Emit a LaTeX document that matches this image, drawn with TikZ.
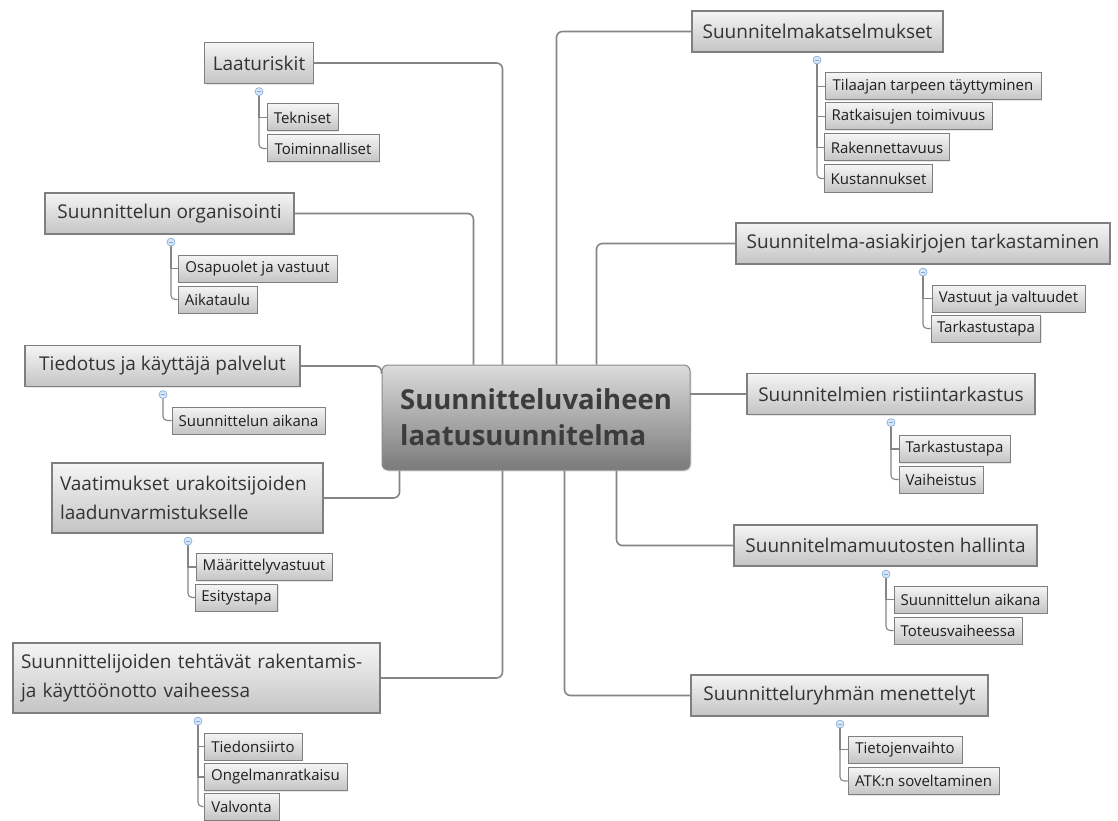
\documentclass[tikz,border=0pt]{standalone}
\usepackage{fontspec}
\setmainfont{Open Sans}
\usetikzlibrary{calc,shadows,backgrounds}
\definecolor{boxtop}{HTML}{F5F5F5}
\definecolor{boxbot}{HTML}{C4C4C4}
\definecolor{boxline}{HTML}{7F7F7F}
\definecolor{centop}{HTML}{DCDCDC}
\definecolor{cenbot}{HTML}{7A7A7A}
\definecolor{cenline}{HTML}{8A8A8A}
\definecolor{centext}{HTML}{3C3C3C}
\definecolor{textdark}{HTML}{333333}
\definecolor{leaftext}{HTML}{1E1E1E}
\definecolor{linegray}{HTML}{858585}
\definecolor{markerfill}{HTML}{D8E7F8}
\definecolor{markerline}{HTML}{7FA8D6}
\begin{document}
\begin{tikzpicture}[x=1pt,y=-1pt,
  box/.style={draw=boxline, top color=boxtop, bottom color=boxbot, text=textdark,
    drop shadow={shadow xshift=1.2pt, shadow yshift=-1.2pt, opacity=0.18}},
  topic/.style={box, line width=1.2pt, minimum height=41, inner xsep=8pt, inner ysep=0pt,
    font=\fontsize{19}{29}\selectfont},
  twoline/.style={topic, minimum height=70, align=left, text width=#1},
  leaf/.style={box, line width=1pt, minimum height=27, inner xsep=6pt, inner ysep=0pt,
    font=\fontsize{15}{18}\selectfont, text=leaftext},
  central/.style={draw=cenline, line width=1pt, rounded corners=6, top color=centop,
    bottom color=cenbot, minimum width=308, minimum height=105, inner sep=0pt, align=left,
    font=\fontsize{27.5}{36}\selectfont\bfseries, text=centext,
    drop shadow={shadow xshift=1.5pt, shadow yshift=-1.5pt, opacity=0.2}},
  marker/.style={circle, draw=markerline, fill=markerfill, line width=0.6pt, minimum size=8,
    inner sep=0pt, path picture={\draw[markerline, line width=0.7pt]
      ([xshift=-2.2pt]path picture bounding box.center) --
      ([xshift=2.2pt]path picture bounding box.center);}},
  conn/.style={draw=linegray, line width=1.6pt, rounded corners=6},
  sub/.style={draw=linegray, line width=1.1pt},
  subend/.style={sub, rounded corners=4},
]
\useasboundingbox (0,0) rectangle (1118,821);

% centre topic
\node[central] (c) at (536,417.5) {Suunnitteluvaiheen\\laatusuunnitelma};

% left-hand topics
\node[topic, minimum width=108] (lr) at (259,63) {Laaturiskit};
\node[leaf, minimum width=71]  (lr1) at (302.5,117.5) {Tekniset};
\node[leaf, minimum width=112] (lr2) at (323,148.5) {Toiminnalliset};

\node[topic, minimum width=249] (so) at (169.5,213.5) {Suunnittelun organisointi};
\node[leaf, minimum width=159] (so1) at (257.5,268.5) {Osapuolet ja vastuut};
\node[leaf, minimum width=79]  (so2) at (217.5,299.5) {Aikataulu};

\node[topic, minimum width=275] (tk) at (162.5,366) {Tiedotus ja käyttäjä palvelut};
\node[leaf, minimum width=153] (tk1) at (248.5,420.5) {Suunnittelun aikana};

\node[twoline=255] (va) at (187.5,498) {Vaatimukset urakoitsijoiden\\laadunvarmistukselle};
\node[leaf, minimum width=136] (va1) at (264,567) {Määrittelyvastuut};
\node[leaf, minimum width=81]  (va2) at (236.5,597.5) {Esitystapa};

\node[twoline=351] (st) at (196.5,678) {Suunnittelijoiden tehtävät rakentamis-\\ja käyttöönotto vaiheessa};
\node[leaf, minimum width=98]  (st1) at (253,746.5) {Tiedonsiirto};
\node[leaf, minimum width=143] (st2) at (275.5,777) {Ongelmanratkaisu};
\node[leaf, minimum width=75]  (st3) at (241.5,806.5) {Valvonta};

% right-hand topics
\node[topic, minimum width=251] (sk) at (817.5,31.5) {Suunnitelmakatselmukset};
\node[leaf, minimum width=216] (sk1) at (933,86.5) {Tilaajan tarpeen täyttyminen};
\node[leaf, minimum width=167] (sk2) at (908.5,116.5) {Ratkaisujen toimivuus};
\node[leaf, minimum width=124] (sk3) at (887,147.5) {Rakennettavuus};
\node[leaf, minimum width=107] (sk4) at (878.5,178.5) {Kustannukset};

\node[topic, minimum width=374] (sa) at (923,243.5) {Suunnitelma-asiakirjojen tarkastaminen};
\node[leaf, minimum width=153] (sa1) at (1008.5,298.5) {Vastuut ja valtuudet};
\node[leaf, minimum width=108] (sa2) at (986,328.5) {Tarkastustapa};

\node[topic, minimum width=288] (sr) at (891,394) {Suunnitelmien ristiintarkastus};
\node[leaf, minimum width=111] (sr1) at (954.5,449) {Tarkastustapa};
\node[leaf, minimum width=84]  (sr2) at (941,479.5) {Vaiheistus};

\node[topic, minimum width=303] (sm) at (885.5,545.5) {Suunnitelmamuutosten hallinta};
\node[leaf, minimum width=153] (sm1) at (970.5,599.5) {Suunnittelun aikana};
\node[leaf, minimum width=128] (sm2) at (958,630.5) {Toteusvaiheessa};

\node[topic, minimum width=297] (sg) at (839.5,695.5) {Suunnitteluryhmän menettelyt};
\node[leaf, minimum width=114] (sg1) at (905,749.5) {Tietojenvaihto};
\node[leaf, minimum width=151] (sg2) at (923.5,781) {ATK:n soveltaminen};

% collapse markers under each topic
\foreach \t/\mx in {lr/259, so/171, tk/163, va/188, st/198, sk/817, sa/923, sr/891, sm/886, sg/840}{
  \node[marker] (\t m) at ($(\t.south -| \mx,0)+(0,7.5)$) {};
}

\begin{scope}[on background layer]
  \fill[white] (0,0) rectangle (1118,821);
  % main branches
  \draw[conn] (lr.east) -| ($(c.north west)+(121,0)$);
  \draw[conn] (so.east) -| ($(c.north west)+(92,0)$);
  \draw[conn] (tk.east) -| ($(c.north west)+(0,9)$);
  \draw[conn] (va.east) -| ($(c.south west)+(18,0)$);
  \draw[conn] (st.east) -| ($(c.south west)+(121,0)$);
  \draw[conn] (sk.west) -| ($(c.north west)+(175,0)$);
  \draw[conn] (sa.west) -| ($(c.north west)+(215,0)$);
  \draw[conn] (sr.west) -- ([xshift=-4pt]c.east |- sr.west);
  \draw[conn] (sm.west) -| ($(c.south west)+(235,0)$);
  \draw[conn] (sg.west) -| ($(c.south west)+(183,0)$);

  % sub-branches
  \draw[sub] (lrm.south) |- (lr1.west);
  \draw[subend] (lrm.south) |- (lr2.west);
  \draw[sub] (som.south) |- (so1.west);
  \draw[subend] (som.south) |- (so2.west);
  \draw[subend] (tkm.south) |- (tk1.west);
  \draw[sub] (vam.south) |- (va1.west);
  \draw[subend] (vam.south) |- (va2.west);
  \draw[sub] (stm.south) |- (st1.west);
  \draw[sub] (stm.south) |- (st2.west);
  \draw[subend] (stm.south) |- (st3.west);
  \draw[sub] (skm.south) |- (sk1.west);
  \draw[sub] (skm.south) |- (sk2.west);
  \draw[sub] (skm.south) |- (sk3.west);
  \draw[subend] (skm.south) |- (sk4.west);
  \draw[sub] (sam.south) |- (sa1.west);
  \draw[subend] (sam.south) |- (sa2.west);
  \draw[sub] (srm.south) |- (sr1.west);
  \draw[subend] (srm.south) |- (sr2.west);
  \draw[sub] (smm.south) |- (sm1.west);
  \draw[subend] (smm.south) |- (sm2.west);
  \draw[sub] (sgm.south) |- (sg1.west);
  \draw[subend] (sgm.south) |- (sg2.west);
\end{scope}
\end{tikzpicture}
\end{document}
